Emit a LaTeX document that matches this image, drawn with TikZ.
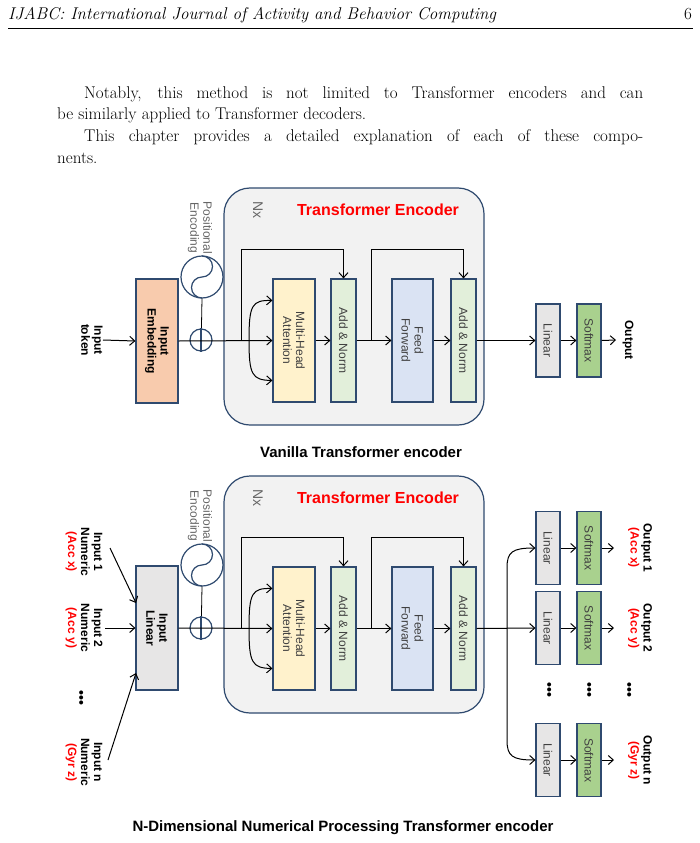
\documentclass[tikz,border=0pt]{standalone}
\usepackage{fontspec}
\newfontfamily\dsans{Liberation Sans}
\usetikzlibrary{arrows.meta,calc}
\definecolor{navy}{HTML}{2F4A6F}
\definecolor{peach}{HTML}{F8CBAD}
\definecolor{lyel}{HTML}{FFF2CC}
\definecolor{lgrn}{HTML}{E2EFDA}
\definecolor{lblu}{HTML}{DAE3F3}
\definecolor{lgry}{HTML}{E7E6E6}
\definecolor{mgrn}{HTML}{A9D18E}
\definecolor{txtg}{HTML}{404040}
\tikzset{
 arr/.style={-{Straight Barb[length=5pt,width=9pt]},line width=1pt},
 ln/.style={line width=1pt},
 blk/.style={draw=navy,line width=1.2pt,rotate=-90,inner sep=0pt,align=center,font=\dsans\fontsize{12}{13}\selectfont,text=txtg},
 lbl/.style={rotate=-90,align=center,font=\dsans\bfseries\fontsize{12}{13}\selectfont},
 ptext/.style={anchor=base west,inner sep=0pt,font=\fontsize{17}{21}\selectfont}
}
\newcommand{\encblock}[2]{%
\begin{scope}[yshift=-#2pt]
\node[draw=navy,line width=1.2pt,fill=black!5,rounded corners=26pt,minimum width=260pt,minimum height=237pt,inner sep=0pt] (#1enc) at (354,306.5) {};
\node[rotate=-90,text=black!60,font=\dsans\fontsize{14}{15}\selectfont] (#1nx) at (258,210) {Nx};
\node[text=red,font=\dsans\bfseries\fontsize{16}{17}\selectfont] (#1tt) at (378,210) {Transformer Encoder};
\node[blk,fill=lyel,minimum width=123pt,minimum height=42pt] (#1mha) at (294,340.5) {Multi-Head\\Attention};
\node[blk,fill=lgrn,minimum width=123pt,minimum height=25pt] (#1an1) at (343.5,340.5) {Add \& Norm};
\node[blk,fill=lblu,minimum width=123pt,minimum height=41pt] (#1ff) at (412.5,340.5) {Feed\\Forward};
\node[blk,fill=lgrn,minimum width=123pt,minimum height=25pt] (#1an2) at (463.5,340.5) {Add \& Norm};
\node[circle,draw=navy,line width=1.2pt,minimum size=22pt,inner sep=0pt] (#1plus) at (201,340) {};
\node[circle,draw=navy,line width=1.2pt,minimum size=42pt,inner sep=0pt] (#1pe) at (202,277) {};
\draw[navy,line width=1.2pt] (202,256) arc[start angle=90,end angle=-90,radius=10.5pt] arc[start angle=90,end angle=270,radius=10.5pt];
\node[rotate=-90,align=center,text=black!60,font=\dsans\fontsize{12}{13}\selectfont] (#1pel) at (200,228) {Positional\\Encoding};
\draw[line width=0.8pt] (#1pe.south) -- (#1plus.south);
\draw[navy,line width=1.2pt] (#1plus.north) -- (#1plus.south);
\draw[arr] (#1in.north) -- (#1mha.south);
\coordinate (#1s1) at (241,340);
\coordinate (#1s2) at (371,340);
\coordinate (#1b1) at (249,340);
\draw[arr] (#1b1) .. controls (249,305) and (252,300) .. ($(#1mha.south)+(0,-40)$);
\draw[arr] (#1b1) .. controls (249,375) and (252,380) .. ($(#1mha.south)+(0,40)$);
\draw[arr] (#1s1) -- ++(0,-91) -| (#1an1.west);
\draw[arr] (#1s2) -- ++(0,-91) -| (#1an2.west);
\draw[arr] (#1mha.north) -- (#1an1.south);
\draw[arr] (#1an1.north) -- (#1ff.south);
\draw[arr] (#1ff.north) -- (#1an2.south);
\end{scope}}
\begin{document}
\begin{tikzpicture}[x=1pt,y=-1pt]
\useasboundingbox[fill=white] (0,0) rectangle (700,843);
% header and text
\node[ptext,font=\itshape\fontsize{17}{21}\selectfont] (hd) at (8,20) {IJABC: International Journal of Activity and Behavior Computing};
\node[ptext,anchor=base east] (pg) at (692,20) {6};
\draw[line width=0.6pt] (8,28) -- (693,28);
\node[ptext] (l1) at (84,98) {\makebox[559pt][s]{Notably, this method is not limited to Transformer encoders and can}};
\node[ptext] (l2) at (57,119) {be similarly applied to Transformer decoders.};
\node[ptext] (l3) at (84,141) {\makebox[559pt][s]{This chapter provides a detailed explanation of each of these compo-}};
\node[ptext] (l4) at (57,163) {nents.};
% top diagram
\node[lbl] (tok) at (92,340) {Input\\token};
\node[blk,fill=peach,minimum width=124pt,minimum height=42pt,text=black,font=\dsans\bfseries\fontsize{12}{13}\selectfont] (ain) at (157,341) {Input\\Embedding};
\coordinate (tokr) at (103,340);
\draw[arr] (tokr) -- (ain.south);
\encblock{a}{0}
\node[blk,fill=lgry,minimum width=73pt,minimum height=24pt] (alin) at (548,340.5) {Linear};
\node[blk,fill=mgrn,minimum width=73pt,minimum height=24pt] (asof) at (589,340.5) {Softmax};
\draw[arr] (aan2.north) -- (alin.south);
\draw[arr] (alin.north) -- (asof.south);
\node[lbl] (aout) at (628,340) {Output};
\coordinate (aoe) at (616,340);
\draw[arr] (asof.north) -- (aoe);
\node[font=\dsans\bfseries\fontsize{15}{16}\selectfont] (cap1) at (361,452) {Vanilla Transformer encoder};
% bottom diagram
\node[blk,fill=lgry,minimum width=124pt,minimum height=42pt,text=black,font=\dsans\bfseries\fontsize{12}{13}\selectfont] (bin) at (157,628) {Input\\Linear};
\node[lbl] (i1) at (84,552) {Input 1\\Numeric\\\textcolor{red}{(Acc x)}};
\node[lbl] (i2) at (84,628) {Input 2\\Numeric\\\textcolor{red}{(Acc y)}};
\node[lbl] (i3) at (84,762) {Input n\\Numeric\\\textcolor{red}{(Gyr z)}};
\node[rotate=-90,font=\dsans\bfseries\fontsize{14}{15}\selectfont] (idots) at (80,698) {•••};
\coordinate (i1e) at (110,548); \coordinate (i1t) at (136,603);
\coordinate (i2e) at (105,628);
\coordinate (i3e) at (108,760); \coordinate (i3t) at (136,673);
\draw[arr] (i1e) -- (i1t);
\draw[arr] (i2e) -- (bin.south);
\draw[arr] (i3e) -- (i3t);
\encblock{b}{288}
\foreach \n/\y/\o/\c in {1/548/1/Acc x,2/628/2/Acc y,3/760/n/Gyr z}{
 \node[blk,fill=lgry,minimum width=73pt,minimum height=24pt] (blin\n) at (548,\y) {Linear};
 \node[blk,fill=mgrn,minimum width=73pt,minimum height=24pt] (bsof\n) at (589,\y) {Softmax};
 \draw[arr] (blin\n.north) -- (bsof\n.south);
 \coordinate (boe\n) at (614,\y);
 \draw[arr] (bsof\n.north) -- (boe\n);
 \node[lbl] (bout\n) at (640,\y) {Output \o\\\textcolor{red}{(\c)}};
}
\foreach \x/\nm in {548/d1,588/d2,628/d3}{\node[rotate=-90,font=\dsans\bfseries\fontsize{14}{15}\selectfont] (\nm) at (\x,690) {•••};}
\draw[arr] (ban2.north) -- (blin2.south);
\coordinate (bv) at (507,628);
\draw[arr] (bv) -- (507,568) .. controls (507,552) and (512,548) .. (blin1.south);
\draw[arr] (bv) -- (507,740) .. controls (507,756) and (512,760) .. (blin3.south);
\node[font=\dsans\bfseries\fontsize{15}{16}\selectfont] (cap2) at (343,828) {N-Dimensional Numerical Processing Transformer encoder};
\end{tikzpicture}
\end{document}
